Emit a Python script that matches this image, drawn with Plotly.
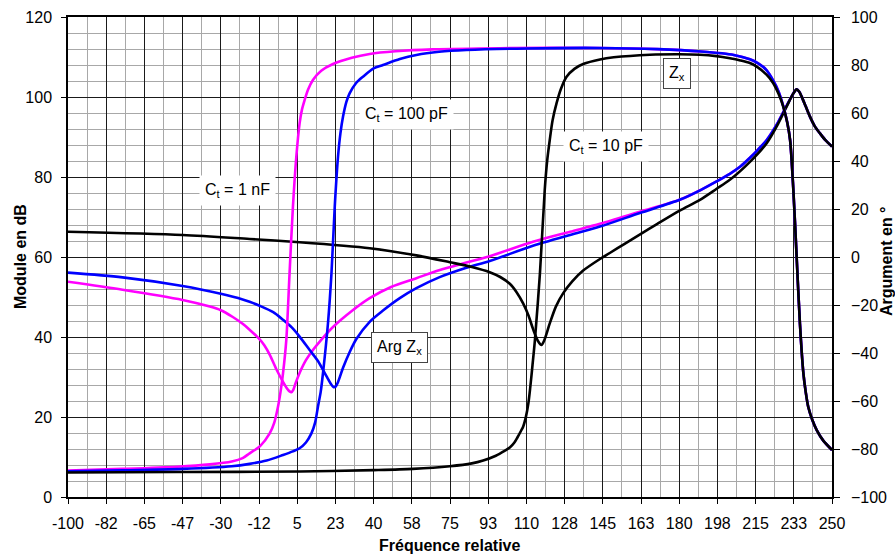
import plotly.graph_objects as go

# ---------------- data ----------------
x_tick_vals = [-100 + 17.5 * k for k in range(21)]
x_tick_text = ["-100", "-82", "-65", "-47", "-30", "-12", "5", "23", "40", "58", "75",
               "93", "110", "128", "145", "163", "180", "198", "215", "233", "250"]

# Module (dB) curves - left axis
mag_1nF_x = [-100, -75, -47.5, -35, -30, -24.5, -20, -16.8, -12.5, -10, -7.6, -4.6, -1.5, 0.5, 1.5,
             2.3, 3.2, 4.3, 6.1, 9, 12.2, 16, 21.4, 30, 38.2, 48, 59.6, 70, 82.5, 93.2, 113, 130,
             143.7, 162, 180.2, 190, 197.1, 203.2, 208, 212.4, 216, 220, 225.4, 229.2, 232.3,
             233.8, 235, 236.1, 238, 239.9, 242, 244.5, 247, 250]
mag_1nF_y = [53.8, 51.8, 49.25, 47.6, 46.7, 45.0, 43.3, 41.8, 39.6, 37.9, 35.6, 32, 28.8, 27, 26.4,
             26.2, 26.8, 28.5, 31, 34.2, 36.75, 39.3, 42.5, 46.5, 49.7, 52.5, 54.7, 56.7, 58.6, 60.2,
             63.8, 66.3, 68.3, 71.3, 74.3, 76.8, 78.9, 80.8, 82.6, 84.8, 86.8, 89.2, 93.8, 97.8,
             100.9, 101.9, 101.3, 100.1, 97.6, 95.1, 92.8, 90.9, 89.2, 87.6]

mag_100pF_x = [-100, -75, -47.5, -30, -20, -16.8, -12.2, -6, -1.5, 2.5, 6.1, 10.7, 14.5, 18.4, 20.3,
               21.6, 22.6, 23.8, 26, 29, 32.1, 38.2, 44.3, 52, 59.6, 70, 82.5, 93.2, 113, 130,
               143.7, 162, 180.2, 190, 197.1, 203.2, 208, 212.4, 216, 220, 225.4, 229.2, 232.3,
               233.8, 235, 236.1, 238, 239.9, 242, 244.5, 247, 250]
mag_100pF_y = [56.1, 54.9, 52.75, 50.8, 49.4, 48.8, 47.8, 46.2, 44.3, 42.4, 40.1, 36.75, 34, 30.2,
               28.4, 27.5, 27.6, 28.9, 32.3, 36.2, 39.5, 43.8, 46.6, 49.7, 52.2, 54.9, 57.3, 59,
               62.8, 65.5, 67.6, 71, 74.3, 76.8, 78.9, 80.8, 82.6, 84.8, 86.8, 89.2, 93.8, 97.8,
               100.9, 101.9, 101.3, 100.1, 97.6, 95.1, 92.8, 90.9, 89.2, 87.6]

mag_10pF_x = [-100, -47.5, -16.8, 6.1, 38.2, 59.6, 74.9, 85, 93.2, 98, 102.4, 105.5, 108.5, 111,
              113.1, 115.3, 116.9, 118.2, 120.7, 123.5, 126.8, 131, 136, 143.7, 148.2, 155, 161.9,
              170, 180.2, 189.5, 197, 203.2, 212.4, 220, 225.4, 229.2, 232.3, 233.8, 235, 236.1,
              238, 239.9, 242, 244.5, 247, 250]
mag_10pF_y = [66.3, 65.5, 64.5, 63.7, 62.2, 60.4, 58.7, 57.5, 56.2, 55, 53.3, 51.2, 48.4, 45.3,
              41.9, 39, 38, 39.2, 43.4, 47.6, 50.9, 53.9, 56.6, 59.5, 61, 63.3, 65.6,
              68.3, 71.6, 74.3, 77, 79.3, 83.8, 88.4, 93.4, 97.6, 100.9, 101.9, 101.3, 100.1,
              97.6, 95.1, 92.8, 90.9, 89.2, 87.6]

# Argument (deg) curves - right axis
arg_1nF_x = [-100, -75, -50, -35, -25, -20, -16.8, -12, -7.6, -5.5, -3.8, -2.6, -1.5, 0, 1.5, 3.05,
             4.6, 6.1, 7.2, 8.4, 10, 12.2, 16, 21.4, 30, 38.2, 50, 67, 98, 144, 170, 190, 205,
             212.4, 216, 220, 223.1, 225.5, 227.7, 229.5, 230.8, 232.3, 233.8, 235.3, 236.9, 238,
             239.1, 241, 243, 246, 250]
arg_1nF_y = [-89, -88.3, -87.4, -86.4, -85.2, -83.8, -81.8, -78.8, -73.5, -69, -62.4, -56, -48.5,
             -34.6, -6.8, 21, 41.8, 55.7, 61.5, 65.4, 69.8, 73.75, 77.6, 80.4, 83, 84.6, 85.7, 86.5,
             87, 87.1, 86.6, 85.6, 84.2, 82.4, 80.8, 77.9, 73.5, 69, 62.8, 56, 48.75, 27.9, 0.1,
             -27.6, -48.5, -56.5, -62.4, -67.9, -72.1, -76.5, -80.4]

arg_100pF_x = [-100, -75, -47.5, -25, -16.8, -9, -1.5, 3, 6.1, 9, 11.5, 13.2, 14.5, 15.8, 16.8, 19.1,
               20.7, 22.2, 23.7, 24.8, 26, 27.5, 29, 32, 35.1, 40, 44.3, 52, 59.6, 70, 82.5, 110,
               143.7, 170, 190, 205, 212.4, 216, 220, 223.1, 225.5, 227.7, 229.5, 230.8, 232.3,
               233.8, 235.3, 236.9, 238, 239.1, 241, 243, 246, 250]
arg_100pF_y = [-89.3, -88.9, -88.3, -87.2, -86.2, -84.8, -82.5, -81, -79.7, -77.3, -73.5, -69, -62.4,
               -56, -48.5, -27.6, -6.8, 21, 41.8, 51.5, 58.5, 64.5, 68.2, 72.5, 75.1, 78.6, 80, 82.5,
               84.2, 85.5, 86.25, 86.9, 87.1, 86.6, 85.6, 84.2, 82.4, 80.8, 77.9, 73.5, 69, 62.8,
               56, 48.75, 27.9, 0.1, -27.6, -48.5, -56.5, -62.4, -67.9, -72.1, -76.5, -80.4]

arg_10pF_x = [-100, -50, 6.1, 40, 58, 74.9, 85, 90.2, 96, 100, 102.4, 104.5, 106, 107.5, 108.5, 109.8,
              110.9, 111.8, 112.8, 113.9, 116.2, 118.4, 119.5, 120.7, 122, 123.8, 125.8, 128.4, 132,
              136, 143.7, 150, 166.6, 180, 189.5, 197, 203.2, 208, 212.4, 215.5, 220, 223.1, 225.5,
              227.7, 229.5, 230.8, 232.3, 233.8, 235.3, 236.9, 238, 239.1, 241, 243, 246, 250]
arg_10pF_y = [-89.8, -89.6, -89.4, -88.8, -88.3, -87.2, -86, -84.8, -82.8, -80.8, -79.4, -77.3, -75,
              -72.5, -70.7, -66.5, -61, -54, -45, -34.6, -6.8, 27.9, 40, 48.75, 57, 64, 70, 75.1,
              78.4, 80.4, 82.3, 83.2, 84.3, 84.5, 84.3, 83.7, 82.8, 81.9, 80.8, 79.3, 76, 72.4, 68,
              62.6, 56, 48.75, 27.9, 0.1, -27.6, -48.5, -56.5, -62.4, -67.9, -72.1, -76.5, -80.4]

# ---------------- figure ----------------
FONT = "Arial, 'Liberation Sans', sans-serif"
MAGENTA, BLUE, BLACK = "#FF00FF", "#0000FF", "#000000"
LW = 2.6

fig = go.Figure()
curves = [
    (mag_1nF_x, mag_1nF_y, MAGENTA, "y"),
    (arg_1nF_x, arg_1nF_y, MAGENTA, "y2"),
    (mag_100pF_x, mag_100pF_y, BLUE, "y"),
    (arg_100pF_x, arg_100pF_y, BLUE, "y2"),
    (mag_10pF_x, mag_10pF_y, BLACK, "y"),
    (arg_10pF_x, arg_10pF_y, BLACK, "y2"),
]
for xs, ys, col, ax in curves:
    fig.add_trace(go.Scatter(x=xs, y=ys, mode="lines", yaxis=ax,
                             line=dict(color=col, width=LW, shape="spline", smoothing=0.8),
                             showlegend=False, hoverinfo="skip"))

minor_x = [-100 + 8.75 * k for k in range(41)]

fig.update_layout(
    width=895, height=557,
    margin=dict(l=68, r=63, t=17, b=60),
    paper_bgcolor="white", plot_bgcolor="white",
    font=dict(family=FONT, size=16, color="black"),
    xaxis=dict(
        range=[-100, 250], tickmode="array", tickvals=x_tick_vals, ticktext=x_tick_text,
        ticks="outside", ticklen=5, tickwidth=1.2, tickcolor="black",
        showline=True, linecolor="black", linewidth=1.5, mirror=True,
        showgrid=True, gridcolor="#1a1a1a", gridwidth=1,
        minor=dict(tickmode="array", tickvals=minor_x, showgrid=True, gridcolor="#a8a8a8",
                   gridwidth=1, ticks=""),
        zeroline=False, ticklabelstandoff=6, automargin=False,
        tickfont=dict(size=16),
    ),
    yaxis=dict(
        range=[0, 120], tickmode="linear", tick0=0, dtick=20,
        ticks="outside", ticklen=5, tickwidth=1.2, tickcolor="black",
        showline=True, linecolor="black", linewidth=1.5,
        showgrid=True, gridcolor="#1a1a1a", gridwidth=1,
        minor=dict(tickmode="linear", tick0=0, dtick=4, showgrid=True, gridcolor="#a8a8a8",
                   gridwidth=1, ticks=""),
        zeroline=False, ticklabelstandoff=6, automargin=False,
        tickfont=dict(size=16),
    ),
    yaxis2=dict(
        range=[-100, 100], tickmode="linear", tick0=-100, dtick=20, overlaying="y", side="right",
        ticks="outside", ticklen=6, tickwidth=1.2, tickcolor="black",
        showline=True, linecolor="black", linewidth=1.5,
        showgrid=False, zeroline=False, ticklabelstandoff=8, automargin=False,
        tickfont=dict(size=16),
    ),
)

# Axis titles
fig.add_annotation(text="<b>Fréquence relative</b>", xref="paper", yref="paper",
                   x=0.5, y=0, yshift=-48, showarrow=False, font=dict(size=16),
                   xanchor="center", yanchor="middle")
fig.add_annotation(text="<b>Module en dB</b>", xref="paper", yref="paper",
                   x=0, xshift=-48, y=0.5, showarrow=False, textangle=-90,
                   font=dict(size=16), xanchor="center", yanchor="middle")
fig.add_annotation(text="<b>Argument en °</b>", xref="paper", yref="paper",
                   x=1, xshift=54, y=0.5, yshift=-4, showarrow=False, textangle=-90,
                   font=dict(size=16), xanchor="center", yanchor="middle")

# Curve labels
labels = [
    ("C<sub>t</sub> = 1 nF", -22.5, 76.75, False),
    ("C<sub>t</sub> = 100 pF", 55.2, 95.75, False),
    ("C<sub>t</sub> = 10 pF", 146.4, 87.75, False),
    ("Z<sub>x</sub>", 179.2, 105.9, True),
    ("Arg Z<sub>x</sub>", 52, 37.4, True),
]
for txt, lx, ly, boxed in labels:
    fig.add_annotation(text=txt, x=lx, y=ly, xref="x", yref="y", showarrow=False,
                       font=dict(size=16, color="black"), bgcolor="white",
                       bordercolor="#444" if boxed else "rgba(0,0,0,0)",
                       borderwidth=1, borderpad=5)

fig.write_html("out.html")
